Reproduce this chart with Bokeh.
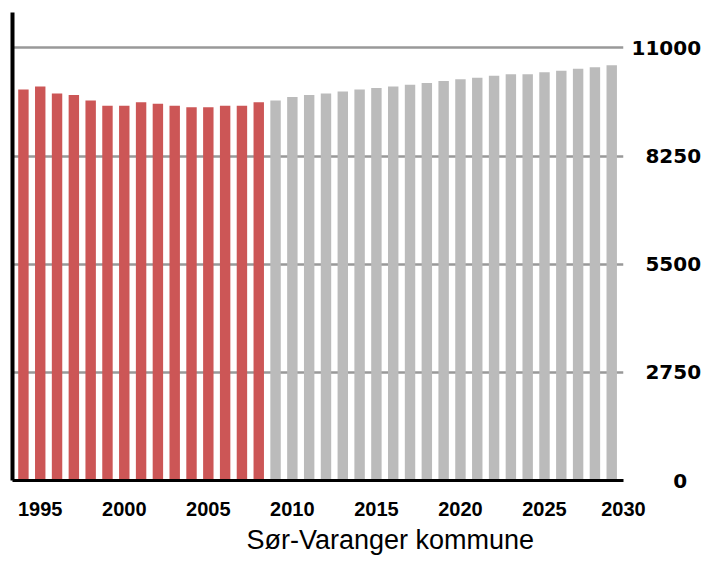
from bokeh.plotting import figure
from bokeh.models import (Range1d, FixedTicker, LinearAxis, Title, ColumnDataSource)
from bokeh.embed import file_html
from bokeh.resources import INLINE

# --- data ---
years_actual = [1994, 1995, 1996, 1997, 1998, 1999, 2000, 2001, 2002, 2003,
                2004, 2005, 2006, 2007, 2008]
pop_actual = [9940, 10020, 9840, 9800, 9660, 9530, 9530, 9620, 9580, 9530,
              9490, 9490, 9530, 9530, 9620]
years_proj = [2009, 2010, 2011, 2012, 2013, 2014, 2015, 2016, 2017, 2018,
              2019, 2020, 2021, 2022, 2023, 2024, 2025, 2026, 2027, 2028, 2029]
pop_proj = [9660, 9750, 9800, 9840, 9890, 9940, 9980, 10020, 10060, 10110,
            10160, 10200, 10240, 10290, 10330, 10330, 10380, 10420, 10470, 10510, 10560]
y_ticks = [0, 2750, 5500, 8250, 11000]
x_tick_years = [1995, 2000, 2005, 2010, 2015, 2020, 2025, 2030]
title_text = "Sør-Varanger kommune"

X_START, X_END = 1993.35, 2029.7

p = figure(width=704, height=560, output_backend="svg", toolbar_location=None,
           x_range=Range1d(X_START, X_END), y_range=Range1d(0, 11900),
           y_axis_location="right",
           min_border_left=12, min_border_top=12, min_border_right=79,
           min_border_bottom=80)
p.outline_line_color = None
p.background_fill_color = "white"
p.border_fill_color = "white"

src_a = ColumnDataSource(dict(x=years_actual, top=pop_actual))
src_p = ColumnDataSource(dict(x=years_proj, top=pop_proj))
p.vbar(x="x", top="top", width=0.62, bottom=0, source=src_a,
       fill_color="#CC5656", line_color=None)
p.vbar(x="x", top="top", width=0.62, bottom=0, source=src_p,
       fill_color="#BBBBBB", line_color=None)

# grid
p.xgrid.visible = False
p.ygrid.ticker = FixedTicker(ticks=[t for t in y_ticks if t > 0])
p.ygrid.grid_line_color = "#999999"
p.ygrid.grid_line_width = 2.5

# right y axis
ya = p.yaxis[0]
ya.ticker = FixedTicker(ticks=y_ticks)
width_chars = max(len(str(t)) for t in y_ticks)
ya.major_label_overrides = {t: "\u2007" * (width_chars - len(str(t)) - (1 if t == 0 else 0)) + str(t)
                            for t in y_ticks}
ya.axis_line_color = None
ya.major_tick_out = 0
ya.major_tick_in = 0
ya.minor_tick_out = 0
ya.minor_tick_in = 0
ya.major_label_standoff = 8
ya.major_label_text_font = "DejaVu Sans"
ya.major_label_text_font_style = "bold"
ya.major_label_text_font_size = "20px"
ya.major_label_text_color = "black"

# left axis line only
la = LinearAxis(ticker=FixedTicker(ticks=[]), major_label_text_font_size="0px",
                major_tick_out=0, major_tick_in=0, minor_tick_out=0, minor_tick_in=0,
                major_label_standoff=0, axis_line_width=4, axis_line_color="black")
p.add_layout(la, "left")

# bottom axis
xa = p.xaxis[0]
last_pos = X_END
xa.ticker = FixedTicker(ticks=[float(y) for y in x_tick_years[:-1]] + [last_pos])
xa.major_label_overrides = {last_pos: str(x_tick_years[-1])}
xa.axis_line_width = 3
xa.axis_line_color = "black"
xa.major_tick_out = 0
xa.major_tick_in = 0
xa.minor_tick_out = 0
xa.minor_tick_in = 0
xa.major_label_standoff = 21
xa.major_label_text_font = "Liberation Sans"
xa.major_label_text_font_style = "bold"
xa.major_label_text_font_size = "20px"
xa.major_label_text_color = "black"

t = Title(text=title_text, text_font="Liberation Sans", text_font_size="27px",
          text_font_style="normal", text_color="black", align="left", offset=234,
          standoff=9)
p.add_layout(t, "below")

open("out.html", "w").write(file_html(p, INLINE))
